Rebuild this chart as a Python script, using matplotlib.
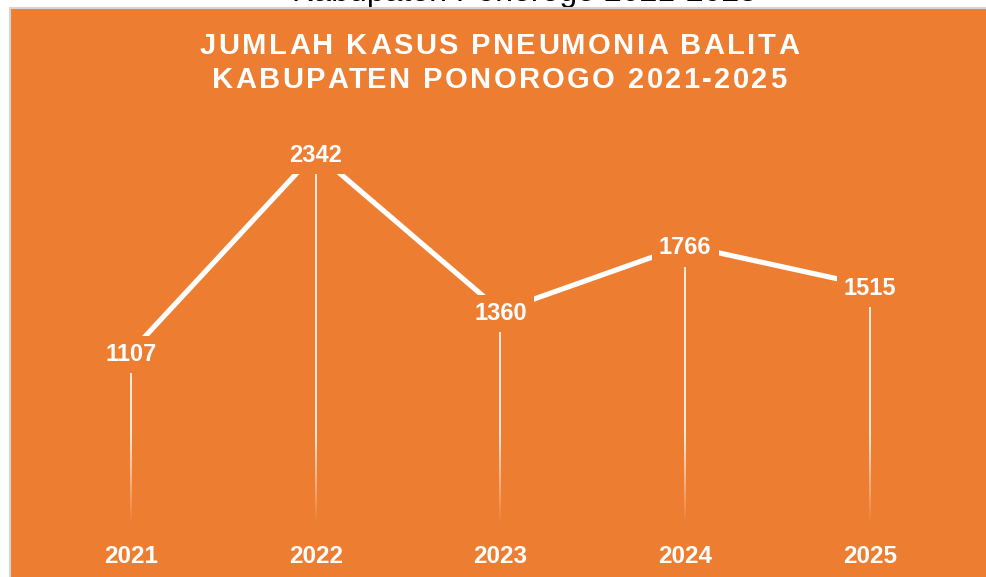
import numpy as np
import matplotlib
matplotlib.use('Agg')
import matplotlib.pyplot as plt
from matplotlib.collections import LineCollection
from matplotlib.patches import Rectangle
from matplotlib.font_manager import FontProperties

plt.rcParams['font.family'] = ['Liberation Sans', 'DejaVu Sans']

# data
years = ['2021', '2022', '2023', '2024', '2025']
cases = [1107, 2342, 1360, 1766, 1515]
title_lines = ['JUMLAH KASUS PNEUMONIA BALITA', 'KABUPATEN PONOROGO 2021-2025']
cut_caption = 'Kabupaten Ponorogo 2021-2025'

W, H = 987, 577
ORANGE = '#ED7D31'

fig = plt.figure(figsize=(W / 100, H / 100), dpi=100, facecolor='white')


def fx(px):
    return px / W


def fy(py):
    return 1 - py / H


# caption of the page above, mostly cut off (as in the source screenshot)
fig.text(fx(525), fy(1), cut_caption, ha='center', va='baseline', fontsize=23,
         color='black', zorder=0.2)

# orange chart area with light grey border
bg = Rectangle((fx(9.5), -0.02), 1.05, fy(7.5) + 0.02, transform=fig.transFigure,
               facecolor=ORANGE, edgecolor='#D4D4D4', lw=1.5, zorder=0.5)
fig.add_artist(bg)

# letter-spaced title, drawn char by char
renderer = fig.canvas.get_renderer()


def spaced_text(s, cx, base_y, spacing, fp):
    wI = renderer.get_text_width_height_descent('I', fp, ismath=False)[0]
    offs = []
    for i in range(len(s)):
        w = renderer.get_text_width_height_descent(s[:i] + 'I', fp, ismath=False)[0]
        offs.append(w - wI + i * spacing)
    total = renderer.get_text_width_height_descent(s, fp, ismath=False)[0] + (len(s) - 1) * spacing
    x0 = cx - total / 2
    for ch, o in zip(s, offs):
        if ch != ' ':
            fig.text(fx(x0 + o), fy(base_y), ch, fontproperties=fp, color='white',
                     ha='left', va='baseline', zorder=3)


title_fp = FontProperties(family='Liberation Sans', weight='bold', size=21)
spaced_text(title_lines[0], 498.5, 54, 2.4, title_fp)
spaced_text(title_lines[1], 499, 88, 2.4, title_fp)

# plot area
ax = fig.add_axes([fx(38.6), fy(530), 923.75 / W, 402.75 / H])
ax.set_zorder(1)
ax.patch.set_visible(False)
for sp in ax.spines.values():
    sp.set_visible(False)
ax.set_xlim(-0.5, 4.5)
ax.set_ylim(0, 2500)
ax.set_yticks([])

x = np.arange(len(years))

# fading drop lines
segs, cols = [], []
for xi, v in zip(x, cases):
    ys = np.linspace(v, 0, 80)
    for a, b in zip(ys[:-1], ys[1:]):
        segs.append([(xi, a), (xi, b)])
        alpha = 0.85 * np.clip(((a + b) / 2 - 40) / 550, 0, 1)
        cols.append((1, 1, 1, alpha))
ax.add_collection(LineCollection(segs, colors=cols, linewidths=1.4, zorder=1))

ax.plot(x, cases, color='white', lw=3.7, zorder=2)

for xi, v in zip(x, cases):
    ax.text(xi, v, str(v), ha='center', va='center_baseline', fontsize=17,
            fontweight='bold', color='white', zorder=4,
            bbox=dict(boxstyle='square,pad=0.3', fc=ORANGE, ec='none'))

ax.set_xticks(x, years)
ax.tick_params(axis='x', length=0, pad=11, labelsize=17.5, labelcolor='white')
for lbl in ax.get_xticklabels():
    lbl.set_fontweight('bold')

fig.savefig('out.png', dpi=100, facecolor='white')
